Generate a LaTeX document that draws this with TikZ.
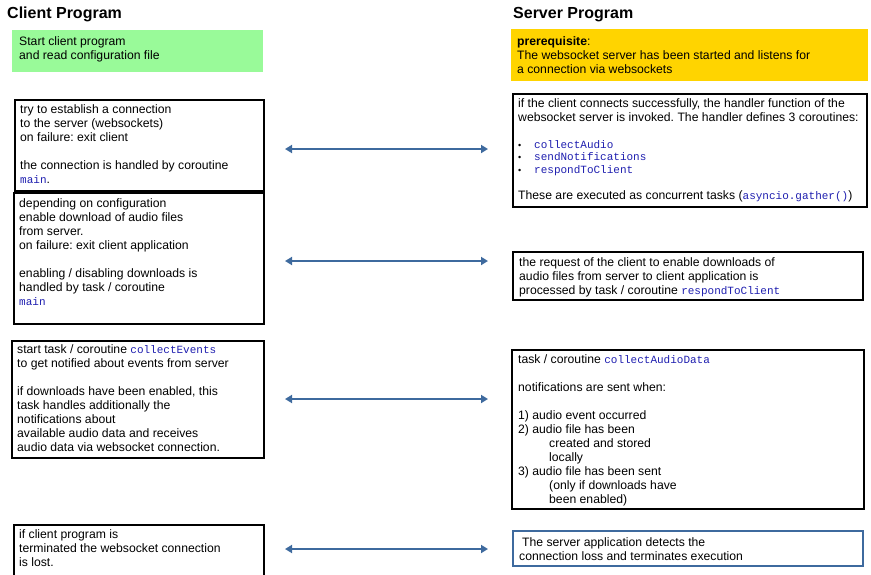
\documentclass[tikz,border=0pt]{standalone}
\usepackage{fontspec}
\setmainfont{Liberation Sans}
\setmonofont{Liberation Mono}
\usetikzlibrary{arrows.meta}
\frenchspacing

\definecolor{startgreen}{RGB}{153,250,153}
\definecolor{prereqyellow}{RGB}{255,212,0}
\definecolor{linkblue}{RGB}{62,106,158}
\definecolor{codeblue}{RGB}{30,30,175}
\newcommand{\code}[1]{{\ttfamily\fontsize{11}{14}\selectfont\color{codeblue}#1}}

\begin{document}
\begin{tikzpicture}[x=1pt,y=-1pt,
  box/.style={draw=black,line width=2pt,anchor=north west,inner sep=0pt},
  txt/.style={anchor=north west,inner sep=0pt,align=left,font=\fontsize{12.2}{14}\selectfont},
  heading/.style={anchor=north west,inner sep=0pt,font=\fontsize{16}{19}\selectfont\bfseries},
  link/.style={linkblue,line width=2pt,{Triangle[length=7pt,width=8pt]}-{Triangle[length=7pt,width=8pt]}}]
\useasboundingbox (0,0) rectangle (871,574);

% client side
\node[heading] (clienttitle) at (7,7) {Client Program};
\node[anchor=north west,inner sep=0pt,fill=startgreen,minimum width=251pt,minimum height=42pt] (cstart) at (12,30) {};
\node[txt] (cstarttxt) at (19,36) {Start client program\\and read configuration file};

\node[box,minimum width=249pt,minimum height=91pt] (c1) at (14,99) {};
\node[txt] (c1txt) at (20,104) {try to establish a connection\\to the server (websockets)\\on failure: exit client\\[14pt]the connection is handled by coroutine\\\code{main}.};

\node[box,minimum width=250pt,minimum height=131pt] (c2) at (13,192) {};
\node[txt] (c2txt) at (19,198) {depending on configuration\\enable download of audio files\\from server.\\on failure: exit client application\\[14pt]enabling / disabling downloads is\\handled by task / coroutine\\\code{main}};

\node[box,minimum width=252pt,minimum height=117pt] (c3) at (11,340) {};
\node[txt] (c3txt) at (17,344) {start task / coroutine \code{collectEvents}\\to get notified about events from server\\[14pt]if downloads have been enabled, this\\task handles additionally the\\notifications about\\available audio data and receives\\audio data via websocket connection.};

\node[box,minimum width=250pt,minimum height=60pt] (c4) at (13,524) {};
\node[txt] (c4txt) at (19,529) {if client program is\\terminated the websocket connection\\is lost.};

% server side
\node[heading] (servertitle) at (513,7) {Server Program};
\node[anchor=north west,inner sep=0pt,fill=prereqyellow,minimum width=357pt,minimum height=52pt] (sprereq) at (511,29) {};
\node[txt] (sprereqtxt) at (517,36) {\textbf{prerequisite}:\\The websocket server has been started and listens for\\a connection via websockets};

\node[box,minimum width=354pt,minimum height=113pt] (s1) at (512,93) {};
\node[txt] (s1txt) at (518,98) {if the client connects successfully, the handler function of the\\websocket server is invoked. The handler defines 3 coroutines:\\[13pt]\makebox[16pt][l]{\small\textbullet}\code{collectAudio}\\[-1.5pt]\makebox[16pt][l]{\small\textbullet}\code{sendNotifications}\\[-1.5pt]\makebox[16pt][l]{\small\textbullet}\code{respondToClient}\\[12pt]These are executed as concurrent tasks (\code{asyncio.gather()})};

\node[box,minimum width=350pt,minimum height=48pt] (s2) at (512,251) {};
\node[txt] (s2txt) at (519,257) {the request of the client to enable downloads of\\audio files from server to client application is\\processed by task / coroutine \code{respondToClient}};

\node[box,minimum width=352pt,minimum height=159pt] (s3) at (511,349) {};
\node[txt] (s3txt) at (518,354) {task / coroutine \code{collectAudioData}\\[14pt]notifications are sent when:\\[14pt]1) audio event occurred\\2) audio file has been\\\hspace*{31pt}created and stored\\\hspace*{31pt}locally\\3) audio file has been sent\\\hspace*{31pt}(only if downloads have\\\hspace*{31pt}been enabled)};

\node[box,draw=linkblue,line width=1.5pt,minimum width=350pt,minimum height=35pt] (s4) at (512,530) {};
\node[txt] (s4txt) at (519,537) {\hspace*{3pt}The server application detects the\\connection loss and terminates execution};

% connections
\foreach \ypos [count=\i] in {149,261,399,549} {
  \coordinate (cl\i) at (285,\ypos);
  \coordinate (sr\i) at (488,\ypos);
  \draw[link] (cl\i) -- (sr\i);
}
\end{tikzpicture}
\end{document}
